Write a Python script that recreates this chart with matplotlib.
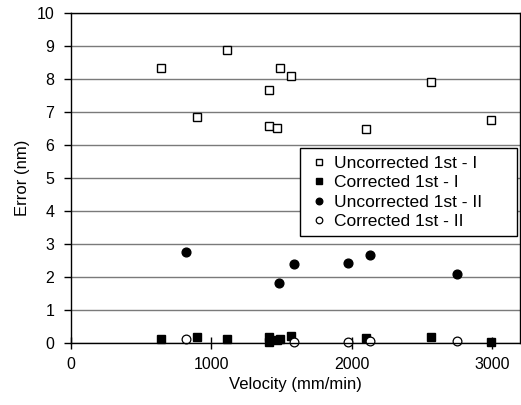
import matplotlib
matplotlib.use("Agg")
import matplotlib.pyplot as plt
from matplotlib.patches import Rectangle

plt.rcParams['font.family'] = ['Liberation Sans', 'DejaVu Sans']

unc1_x = [644, 896, 1110, 1413, 1413, 1466, 1487, 1568, 2103, 2568, 2991]
unc1_y = [8.33, 6.86, 8.87, 7.68, 6.58, 6.52, 8.33, 8.08, 6.48, 7.92, 6.77]
cor1_x = [644, 896, 1113, 1413, 1413, 1466, 1490, 1568, 2103, 2568, 2991]
cor1_y = [0.11, 0.19, 0.11, 0.19, 0.04, 0.08, 0.12, 0.20, 0.16, 0.17, 0.03]
unc2_x = [820, 1480, 1592, 1972, 2134, 2754]
unc2_y = [2.77, 1.82, 2.38, 2.41, 2.67, 2.10]
cor2_x = [820, 1592, 1972, 2134, 2754]
cor2_y = [0.12, 0.04, 0.04, 0.07, 0.07]

W, H = 521, 405
fig = plt.figure(figsize=(W/100, H/100), dpi=100)
ax = fig.add_axes([71/W, 62/H, 449/W, 330/H])

ax.set_xlim(0, 3200)
ax.set_ylim(0, 10)
ax.set_yticks(range(0, 11))
ax.set_xticks([0, 1000, 2000, 3000])
ax.yaxis.grid(True, color='#7a7a7a', linewidth=1)
ax.set_axisbelow(True)

ax.plot(unc1_x, unc1_y, linestyle='none', marker='s', markersize=6.3,
        markerfacecolor='white', markeredgecolor='black', markeredgewidth=1, label='Uncorrected 1st - I', clip_on=False)
ax.plot(cor1_x, cor1_y, linestyle='none', marker='s', markersize=6.3,
        markerfacecolor='black', markeredgecolor='black', label='Corrected 1st - I', clip_on=False)
ax.plot(unc2_x, unc2_y, linestyle='none', marker='o', markersize=6.3,
        markerfacecolor='black', markeredgecolor='black', label='Uncorrected 1st - II', clip_on=False)
ax.plot(cor2_x, cor2_y, linestyle='none', marker='o', markersize=6.3,
        markerfacecolor='white', markeredgecolor='black', markeredgewidth=0.9, label='Corrected 1st - II', clip_on=False)

for s in ['left', 'bottom', 'right', 'top']:
    ax.spines[s].set_color('black')
    ax.spines[s].set_linewidth(1)

ax.tick_params(axis='x', direction='inout', length=8, width=1, labelsize=11.5, pad=6)
ax.tick_params(axis='y', direction='out', length=5, width=1, labelsize=11.5, pad=7)

ax.set_xlabel('Velocity (mm/min)', fontsize=12, labelpad=4)
ax.set_ylabel('Error (nm)', fontsize=12, labelpad=5)

# legend frame (Excel-style box)
box = Rectangle((300/W, (H-236)/H), 217/W, 88/H, transform=fig.transFigure,
                facecolor='white', edgecolor='black', linewidth=1, zorder=4, clip_on=False)
ax.add_patch(box)

leg = ax.legend(loc='center left', bbox_to_anchor=(313/W, (H-192.5)/H),
                bbox_transform=fig.transFigure,
                fontsize=12.5, frameon=False,
                handlelength=0.7, handletextpad=0.5, borderpad=0, labelspacing=0.25,
                markerscale=0.75, borderaxespad=0)
leg.set_zorder(5)

fig.savefig('out.png', dpi=100)
